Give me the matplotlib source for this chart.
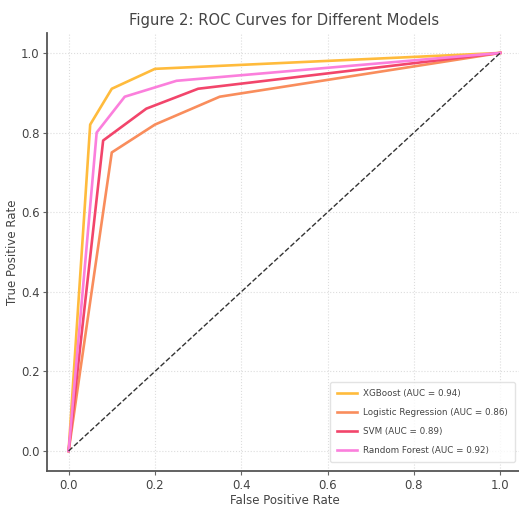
import numpy as np
import matplotlib
matplotlib.use("Agg")
import matplotlib.pyplot as plt

# ROC points
models = ["XGBoost", "Logistic Regression", "SVM", "Random Forest"]
auc = [0.94, 0.86, 0.89, 0.92]
fpr = [
    [0.0, 0.05, 0.10, 0.20, 1.0],
    [0.0, 0.10, 0.20, 0.35, 1.0],
    [0.0, 0.08, 0.18, 0.30, 1.0],
    [0.0, 0.065, 0.13, 0.25, 1.0],
]
tpr = [
    [0.0, 0.82, 0.91, 0.96, 1.0],
    [0.0, 0.75, 0.82, 0.89, 1.0],
    [0.0, 0.78, 0.86, 0.91, 1.0],
    [0.0, 0.80, 0.89, 0.93, 1.0],
]
colors = ["#ffbb3c", "#f98d5c", "#f2456b", "#fb7fdc"]
ticks = [0.0, 0.2, 0.4, 0.6, 0.8, 1.0]

plt.rcParams["font.family"] = "DejaVu Sans"
text_col = "#444444"

fig = plt.figure(figsize=(5.19, 5.08), dpi=100)
ax = fig.add_axes([0.0906, 0.073, 0.915, 0.862])

for name, a, x, y, c in zip(models, auc, fpr, tpr, colors):
    ax.plot(x, y, color=c, lw=1.9, label=f"{name} (AUC = {a:.2f})")
ax.plot([0, 1], [0, 1], color="#333333", ls="--", lw=1)

ax.set_xlim(-0.05, 1.05)
ax.set_ylim(-0.05, 1.05)
ax.set_xticks(ticks)
ax.set_yticks(ticks)
ax.grid(True, ls=":", color="#dddddd", lw=0.8)
for s in ["top", "right"]:
    ax.spines[s].set_visible(False)
for s in ["left", "bottom"]:
    ax.spines[s].set_color("#555555")
    ax.spines[s].set_linewidth(1.3)
ax.tick_params(colors="#666666", labelcolor=text_col, labelsize=8.5, length=3, pad=2.5)

ax.set_xlabel("False Positive Rate", fontsize=8.5, color=text_col, labelpad=2)
ax.set_ylabel("True Positive Rate", fontsize=8.5, color=text_col, labelpad=1)
ax.set_title("Figure 2: ROC Curves for Different Models", fontsize=10.6, color=text_col, pad=6)
leg = ax.legend(loc="lower right", fontsize=6.3, frameon=True, labelcolor=text_col,
                handlelength=2.3, handletextpad=0.7, borderpad=0.8, labelspacing=1.15,
                bbox_to_anchor=(0.995, 0.01))
leg.get_frame().set_edgecolor("#dddddd")

fig.savefig("out.png", dpi=100)
